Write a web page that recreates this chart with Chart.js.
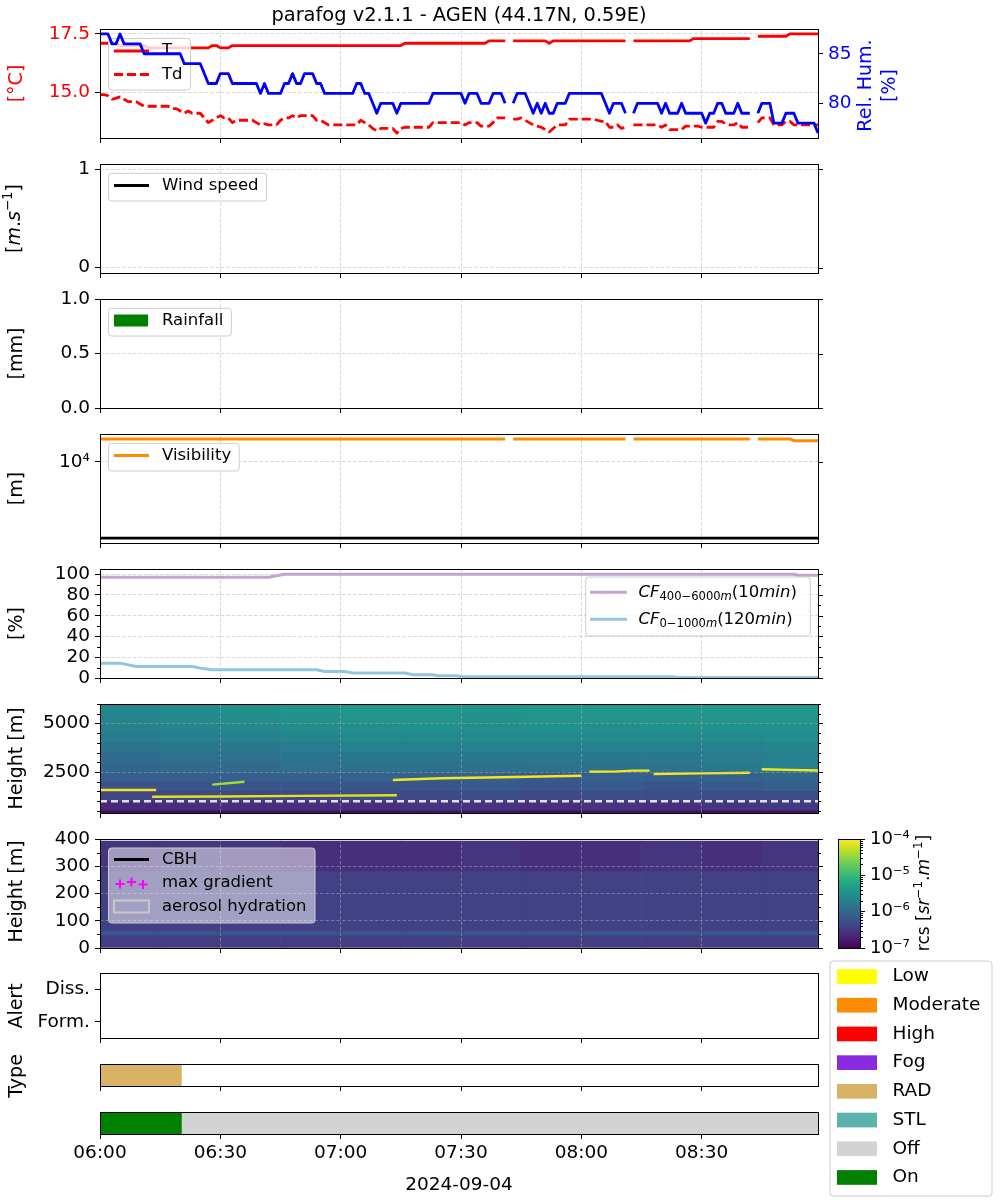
<!DOCTYPE html>
<html>
<head>
<meta charset="utf-8">
<title>parafog v2.1.1 - AGEN</title>
<script src="https://cdn.jsdelivr.net/npm/chart.js@4.4.1/dist/chart.umd.min.js"></script>
<style>
  body { margin: 0; background: #fff; }
  #fig { position: relative; width: 1000px; height: 1200px; overflow: hidden; }
  #fig canvas { position: absolute; left: 0; }
</style>
</head>
<body>
<div id="fig"></div>
<script>
// ---------- data: 1-minute steps from 06:00 ----------
const chartTitle = 'parafog v2.1.1 - AGEN (44.17N, 0.59E)';
const dateLabel = '2024-09-04';
const minutes = Array.from({length: 180}, (_, i) => i);

const temperature = [
  17.1,17.1,17.1,17.1,17.1,17.0,17.0,17.0,17.0,17.0,
  17.0,17.0,16.9,16.9,16.9,16.9,16.9,16.9,16.9,16.9,
  16.9,16.9,16.9,16.9,16.9,16.9,16.9,16.9,17.0,17.0,
  16.9,16.9,16.9,17.0,17.0,17.0,17.0,17.0,17.0,17.0,
  17.0,17.0,17.0,17.0,17.0,17.0,17.0,17.0,17.0,17.0,
  17.0,17.0,17.0,17.0,17.0,17.0,17.0,17.0,17.0,17.0,
  17.0,17.0,17.0,17.0,17.0,17.0,17.0,17.0,17.0,17.0,
  17.0,17.0,17.0,17.0,17.0,17.0,17.1,17.1,17.1,17.1,
  17.1,17.1,17.1,17.1,17.1,17.1,17.1,17.1,17.1,17.1,
  17.1,17.1,17.1,17.1,17.1,17.1,17.1,17.2,17.2,17.2,
  17.2,17.2,null,17.2,17.2,17.2,17.2,17.2,17.2,17.2,
  17.2,17.2,17.1,17.2,17.2,17.2,17.2,17.2,17.2,17.2,
  17.2,17.2,17.2,17.2,17.2,17.2,17.2,17.2,17.2,17.2,
  17.2,17.2,null,17.2,17.2,17.2,17.2,17.2,17.2,17.2,
  17.2,17.2,17.2,17.2,17.2,17.2,17.2,17.2,17.3,17.3,
  17.3,17.3,17.3,17.3,17.3,17.3,17.3,17.3,17.3,17.3,
  17.3,17.3,17.3,null,17.4,17.4,17.4,17.4,17.4,17.4,
  17.4,17.4,17.5,17.5,17.5,17.5,17.5,17.5,17.5,17.5
];
const dewPoint = [
  14.9,14.9,14.85,14.7,14.75,14.8,14.7,14.6,14.6,14.6,
  14.5,14.4,14.4,14.4,14.4,14.4,14.4,14.4,14.3,14.3,
  14.2,14.1,14.2,14.1,14.1,14.1,13.9,13.7,13.8,13.9,
  14.0,13.9,13.9,13.7,13.8,13.8,13.8,13.8,13.8,13.7,
  13.6,13.65,13.6,13.6,13.6,13.8,13.9,13.9,14.0,13.9,
  14.0,14.0,14.0,14.0,13.8,13.8,13.7,13.6,13.6,13.6,
  13.6,13.6,13.6,13.6,13.6,13.8,13.7,13.6,13.45,13.35,
  13.45,13.45,13.45,13.45,13.25,13.45,13.5,13.5,13.5,13.5,
  13.5,13.5,13.5,13.7,13.7,13.7,13.7,13.7,13.7,13.7,
  13.7,13.6,13.7,13.7,13.7,13.55,13.55,13.55,13.7,13.9,
  13.9,13.9,null,13.85,13.85,13.9,13.8,13.7,13.6,13.55,
  13.5,13.4,13.3,13.45,13.6,13.6,13.6,13.85,13.85,13.85,
  13.85,13.85,13.85,13.85,13.8,13.75,13.75,13.5,13.5,13.6,
  13.45,13.5,null,13.6,13.6,13.6,13.6,13.6,13.6,13.6,
  13.5,13.6,13.4,13.4,13.4,13.4,13.55,13.55,13.55,13.55,
  13.5,13.5,13.5,13.5,13.75,13.75,13.65,13.6,13.6,13.7,
  13.5,13.5,13.5,null,13.7,13.9,13.9,13.9,13.6,13.6,
  13.6,13.75,13.75,13.6,13.6,13.6,13.6,13.6,13.6,13.6
];
const relHum = [
  87,87,87,86,86,87,86,86,86,86,
  86,85,85,85,85,85,85,85,85,85,
  85,84,84,84,84,84,83,82,82,82,
  83,83,83,82,82,82,82,82,82,82,
  81,82,81,81,81,81,82,82,83,82,
  82,83,83,83,82,82,81,81,81,81,
  81,81,81,81,82,82,81,81,80,79,
  80,80,80,80,79,80,80,80,80,80,
  80,80,80,81,81,81,81,81,81,81,
  81,80,81,81,81,80,80,80,81,81,
  81,80,null,80,81,81,81,80,79,80,
  79,80,79,79,80,80,80,81,81,81,
  81,81,81,81,81,81,80,79,80,80,
  80,79,null,79,80,80,80,80,80,80,
  79,80,79,79,79,80,79,79,79,79,
  79,78,79,79,80,80,79,79,79,80,
  79,79,79,null,79,80,80,80,78,78,
  78,79,79,79,78,78,78,78,78,77
];
const windSpeed = [];
const rainfall = [];
const visibility = [
  20000,20000,20000,20000,20000,20000,20000,20000,20000,20000,
  20000,20000,20000,20000,20000,20000,20000,20000,20000,20000,
  20000,20000,20000,20000,20000,20000,20000,20000,20000,20000,
  20000,20000,20000,20000,20000,20000,20000,20000,20000,20000,
  20000,20000,20000,20000,20000,20000,20000,20000,20000,20000,
  20000,20000,20000,20000,20000,20000,20000,20000,20000,20000,
  20000,20000,20000,20000,20000,20000,20000,20000,20000,20000,
  20000,20000,20000,20000,20000,20000,20000,20000,20000,20000,
  20000,20000,20000,20000,20000,20000,20000,20000,20000,20000,
  20000,20000,20000,20000,20000,20000,20000,20000,20000,20000,
  20000,20000,null,20000,20000,20000,20000,20000,20000,20000,
  20000,20000,20000,20000,20000,20000,20000,20000,20000,20000,
  20000,20000,20000,20000,20000,20000,20000,20000,20000,20000,
  20000,20000,null,20000,20000,20000,20000,20000,20000,20000,
  20000,20000,20000,20000,20000,20000,20000,20000,20000,20000,
  20000,20000,20000,20000,20000,20000,20000,20000,20000,20000,
  20000,20000,20000,null,20000,20000,20000,20000,20000,20000,
  20000,20000,20000,19000,19000,19000,19000,19000,19000,19000
];
const visFogLimit = 1000;

// cloud fractions, read at their change points
const cfHighTimes = [0, 42, 46, 173, 174, 179];
const cfHigh = [97, 97, 100, 100, 99, 99];
const cfLowTimes = [0, 5, 9, 23, 25, 28, 54, 56, 61, 63, 76, 78, 83, 84, 89, 90, 143, 144, 179];
const cfLow = [14.3, 14.3, 11.0, 11.0, 9.5, 7.9, 7.9, 6.3, 6.3, 4.8, 4.8, 3.2, 3.2, 2.2, 2.2, 1.2, 1.2, 0.6, 0.6];

// ceilometer range-corrected signal, log10(rcs), 15-min columns
const heatTimes = [0, 15, 30, 45, 60, 75, 90, 105, 120, 135, 150, 165, 180];
const highHeights = [390, 500, 1000, 1500, 2000, 2500, 3000, 3500, 4000, 4500, 5000, 5500, 6000];
const rcsHigh = [
  [-6.9,-6.9,-6.85,-6.85,-6.9,-6.85,-6.85,-6.9,-6.85,-6.85,-6.9,-6.85],
  [-6.65,-6.6,-6.6,-6.6,-6.6,-6.55,-6.55,-6.6,-6.55,-6.6,-6.55,-6.5],
  [-6.4,-6.35,-6.35,-6.35,-6.3,-6.35,-6.3,-6.35,-6.3,-6.3,-6.3,-6.3],
  [-6.25,-6.2,-6.2,-6.2,-6.2,-6.2,-6.15,-6.2,-6.15,-6.2,-6.15,-6.1],
  [-6.1,-6.1,-6.1,-6.1,-6.05,-6.1,-6.1,-6.15,-6.1,-6.1,-6.05,-6.0],
  [-6.0,-5.95,-5.95,-5.9,-5.9,-5.9,-5.9,-5.85,-5.9,-5.85,-5.8,-5.7],
  [-5.95,-5.9,-5.9,-5.85,-5.8,-5.8,-5.8,-5.8,-5.8,-5.8,-5.75,-5.7],
  [-5.85,-5.8,-5.8,-5.75,-5.7,-5.7,-5.7,-5.7,-5.7,-5.7,-5.7,-5.65],
  [-5.75,-5.7,-5.7,-5.65,-5.6,-5.6,-5.6,-5.6,-5.6,-5.6,-5.6,-5.55],
  [-5.7,-5.65,-5.6,-5.55,-5.55,-5.5,-5.55,-5.5,-5.55,-5.5,-5.5,-5.5],
  [-5.65,-5.6,-5.55,-5.5,-5.45,-5.45,-5.5,-5.45,-5.45,-5.45,-5.45,-5.45],
  [-5.6,-5.55,-5.5,-5.45,-5.4,-5.4,-5.45,-5.4,-5.4,-5.4,-5.4,-5.4]
];
const lowHeights = [0, 10, 45, 62, 280, 392];
const rcsLow = [
  [-6.5,-6.5,-6.45,-6.5,-6.5,-6.45,-6.5,-6.5,-6.45,-6.5,-6.45,-6.45],
  [-6.45,-6.45,-6.45,-6.45,-6.45,-6.45,-6.45,-6.45,-6.45,-6.45,-6.45,-6.45],
  [-6.22,-6.22,-6.22,-6.22,-6.22,-6.22,-6.22,-6.22,-6.22,-6.22,-6.22,-6.22],
  [-6.43,-6.43,-6.43,-6.43,-6.43,-6.43,-6.43,-6.43,-6.43,-6.43,-6.43,-6.43],
  [-6.55,-6.5,-6.55,-6.6,-6.6,-6.6,-6.55,-6.6,-6.6,-6.55,-6.6,-6.55]
];
const fogTopHeight = 1000;
// bright backscatter layers (m)
const layerATimes = [0, 14];
const layerA = [1570, 1570];
const layerBTimes = [13, 30, 50, 74];
const layerB = [1230, 1240, 1270, 1300];
const layerCTimes = [28, 36];
const layerC = [1850, 2000];
const layerDTimes = [73, 85, 100, 120, 121, 122, 128, 133, 137, 137.5, 138, 150, 162, 163.5, 165, 172, 179];
const layerD = [2090, 2175, 2230, 2310, null, 2510, 2520, 2570, 2570, null, 2400, 2430, 2465, null, 2640, 2610, 2580];

// fog type and status
const typeStart = [0];
const typeEnd = [20.3];
const typeName = ['RAD'];
const stateStart = [0, 20.3];
const stateEnd = [20.3, 179];
const stateName = ['On', 'Off'];

// ticks
const timeTicks = [0, 30, 60, 90, 120, 150];
const tempTicks = [15, 17.5];
const tempTickLabels = ['15.0', '17.5'];
const rhTicks = [80, 85];
const rhTickLabels = ['80', '85'];
const windTicks = [0, 1];
const windTickLabels = ['0', '1'];
const rainTicks = [0, 0.5, 1];
const rainTickLabels = ['0.0', '0.5', '1.0'];
const visTicks = [10000];
const visTickLabels = ['10\u2074'];
const cfTicks = [0, 20, 40, 60, 80, 100];
const cfTickLabels = ['0', '20', '40', '60', '80', '100'];
const cfMinor = [10, 30, 50, 70, 90];
const highTicks = [2500, 5000];
const highTickLabels = ['2500', '5000'];
const highMinor = [500, 1000, 1500, 2000, 3000, 3500, 4000, 4500, 5500, 6000];
const lowTicks = [0, 100, 200, 300, 400];
const lowTickLabels = ['0', '100', '200', '300', '400'];
const lowMinor = [50, 150, 250, 350];
const alertTicks = [0, 1];
const alertLabels = ['Form.', 'Diss.'];
const cbTicks = [1e-7, 1e-6, 1e-5, 1e-4];
const cbTickLabels = ['10\u207b\u2077', '10\u207b\u2076', '10\u207b\u2075', '10\u207b\u2074'];

const legendNames = ['Low', 'Moderate', 'High', 'Fog', 'RAD', 'STL', 'Off', 'On'];
const legendColors = ['#ffff00', '#ff8c00', '#ff0000', '#8a2be2', '#d8b365', '#5ab4ac', '#d3d3d3', '#008000'];

// ---------- styling ----------
const FONT = 'DejaVu Sans';
const GRID = 'rgba(176,176,176,0.5)';
const GRID_DASH = [3.5, 2];
const X_MAX = 179;
const VIRIDIS = [[68,1,84],[72,36,117],[65,68,135],[53,95,141],[42,120,142],[33,145,140],
                 [34,168,132],[68,191,112],[122,209,81],[189,223,38],[253,231,37]];
const LOG_MIN = -7, LOG_MAX = -4;

Chart.defaults.font.family = FONT;
const fig = document.getElementById('fig');

function viridis(t) {
  t = Math.max(0, Math.min(1, t));
  const p = t * 10, i = Math.min(9, Math.floor(p)), f = p - i;
  const a = VIRIDIS[i], b = VIRIDIS[i + 1];
  const c = k => Math.round(a[k] + (b[k] - a[k]) * f);
  return `rgb(${c(0)},${c(1)},${c(2)})`;
}
const rcsColor = v => viridis((v - LOG_MIN) / (LOG_MAX - LOG_MIN));
const colorOf = name => legendColors[legendNames.indexOf(name)];
const pts = (ts, vs) => ts.map((t, i) => ({x: t, y: vs[i]}));

function fmtTime(m) {
  const t = 360 + m;
  return String(Math.floor(t / 60)).padStart(2, '0') + ':' + String(t % 60).padStart(2, '0');
}

// ---------- drawing helpers ----------
function rich(ctx, parts, x, y, o = {}) {
  const size = o.size || 19;
  const fontOf = p => (p.it ? 'italic ' : '') + ((p.sup || p.sub) ? size * 0.7 : size) + 'px "' + FONT + '"';
  const widths = parts.map(p => { ctx.font = fontOf(p); return ctx.measureText(p.t).width; });
  const total = widths.reduce((s, w) => s + w, 0);
  ctx.save();
  ctx.translate(x, y);
  if (o.rot) ctx.rotate(o.rot);
  ctx.fillStyle = o.color || '#000';
  ctx.textBaseline = 'middle';
  ctx.textAlign = 'left';
  let cx = o.align === 'left' ? 0 : -total / 2;
  parts.forEach((p, i) => {
    ctx.font = fontOf(p);
    ctx.fillText(p.t, cx, p.sup ? -size * 0.36 : p.sub ? size * 0.28 : 0);
    cx += widths[i];
  });
  ctx.restore();
  return total;
}

function yLabel(ctx, text, x, y, color) {
  rich(ctx, typeof text === 'string' ? [{t: text}] : text, x, y, {size: 19, rot: -Math.PI / 2, color});
}

function drawLegend(ctx, lg) {
  const size = lg.size || 16.5;
  ctx.save();
  ctx.font = size + 'px "' + FONT + '"';
  let w = lg.w;
  if (!w) {
    const tw = Math.max(...lg.items.map(it => ctx.measureText(it.label).width));
    w = lg.tx - lg.x + tw + 8;
  }
  ctx.beginPath();
  ctx.roundRect(lg.x, lg.y, w, lg.h, 3);
  ctx.fillStyle = `rgba(255,255,255,${lg.alpha ?? 0.8})`;
  ctx.fill();
  ctx.strokeStyle = '#cccccc';
  ctx.lineWidth = 1;
  ctx.stroke();
  const [h0, h1] = lg.hx;
  lg.items.forEach(it => {
    if (it.line) {
      ctx.beginPath();
      ctx.setLineDash(it.line.dash || []);
      ctx.strokeStyle = it.line.color;
      ctx.lineWidth = it.line.width;
      ctx.moveTo(h0, it.y);
      ctx.lineTo(h1, it.y);
      ctx.stroke();
      ctx.setLineDash([]);
    }
    if (it.patch) {
      const ph = it.patch.h || 13;
      if (it.patch.fill) { ctx.fillStyle = it.patch.fill; ctx.fillRect(h0, it.y - ph / 2, h1 - h0, ph); }
      if (it.patch.stroke) {
        ctx.strokeStyle = it.patch.stroke; ctx.lineWidth = 2;
        ctx.strokeRect(h0, it.y - ph / 2, h1 - h0, ph);
      }
    }
    if (it.plus) {
      ctx.strokeStyle = it.plus; ctx.lineWidth = 2;
      [[h0 + 6, it.y + 1], [h0 + 17.5, it.y - 1], [h0 + 29, it.y + 1.5]].forEach(([px, py]) => {
        ctx.beginPath();
        ctx.moveTo(px - 4.5, py); ctx.lineTo(px + 4.5, py);
        ctx.moveTo(px, py - 4.5); ctx.lineTo(px, py + 4.5);
        ctx.stroke();
      });
    }
    if (it.parts) {
      rich(ctx, it.parts, lg.tx, it.y, {size, align: 'left'});
    } else {
      ctx.font = size + 'px "' + FONT + '"';
      ctx.fillStyle = '#000';
      ctx.textBaseline = 'middle';
      ctx.textAlign = 'left';
      ctx.fillText(it.label, lg.tx, it.y);
    }
  });
  ctx.restore();
}

function drawFrame(chart) {
  const a = chart.chartArea, ctx = chart.ctx;
  ctx.save();
  ctx.strokeStyle = '#000';
  ctx.lineWidth = 1;
  ctx.strokeRect(a.left + 0.5, a.top + 0.5, a.right - a.left, a.bottom - a.top);
  ctx.restore();
}

// extra tick marks (mirrored majors on the right, minors on both sides)
function sideTicks(chart, id, vals, len, left, right) {
  const s = chart.scales[id], a = chart.chartArea, ctx = chart.ctx;
  ctx.save();
  ctx.strokeStyle = '#000';
  ctx.lineWidth = 1;
  ctx.beginPath();
  vals.forEach(v => {
    const y = Math.round(s.getPixelForValue(v)) + 0.5;
    if (left) { ctx.moveTo(a.left - len, y); ctx.lineTo(a.left, y); }
    if (right) { ctx.moveTo(a.right, y); ctx.lineTo(a.right + len, y); }
  });
  ctx.stroke();
  ctx.restore();
}

// ---------- scales ----------
function xAxis(o = {}) {
  return {
    type: 'linear', min: 0, max: X_MAX, bounds: 'data', offset: false,
    afterBuildTicks: s => { s.ticks = timeTicks.map(v => ({value: v})); },
    afterFit: s => { s.height = o.height || 20; },
    ticks: {display: !!o.labels, callback: v => fmtTime(v), font: {size: 18.5}, color: '#000',
            padding: 3, maxRotation: 0, autoSkip: false},
    grid: {offset: false, drawOnChartArea: o.grid !== false, color: GRID, lineWidth: 1,
           tickColor: '#000', tickWidth: 1, tickLength: 5, z: o.z || -1},
    border: {display: false, dash: GRID_DASH},
  };
}

function yAxis(o) {
  return {
    type: o.type || 'linear', position: o.position || 'left', min: o.min, max: o.max, bounds: 'data',
    afterBuildTicks: s => { s.ticks = o.ticks.map(v => ({value: v})); },
    afterFit: s => { s.width = o.width || 100; },
    ticks: {callback: (v, i) => o.labels[i], font: {size: o.size || 18.5}, color: o.color || '#000',
            padding: 5, autoSkip: false},
    grid: {drawOnChartArea: o.grid !== false, color: GRID, lineWidth: 1,
           tickColor: '#000', tickWidth: 1, tickLength: 5, z: o.z || -1},
    border: {display: false, dash: GRID_DASH},
  };
}

const rowAxis = {
  type: 'category', offset: true,
  afterFit: s => { s.width = 100; },
  ticks: {display: false}, grid: {display: false}, border: {display: false},
};

function heatDatasets(times, heights, rows) {
  return rows.map((row, r) => ({
    type: 'bar',
    data: row.map((v, c) => ({x: (times[c] + times[c + 1]) / 2, y: [heights[r], heights[r + 1]]})),
    backgroundColor: row.map(rcsColor),
    borderWidth: 0, grouped: false, barPercentage: 1, categoryPercentage: 1, order: 5,
  }));
}

function layerLine(ts, hs, color) {
  return {type: 'line', data: pts(ts, hs), borderColor: color, borderWidth: 2.4, pointRadius: 0, order: 1};
}

function segmentBars(starts, ends, names) {
  return starts.map((s, i) => ({
    data: [[s, ends[i]]], backgroundColor: colorOf(names[i]),
    borderWidth: 0, grouped: false, barPercentage: 1, categoryPercentage: 1,
  }));
}

// ---------- panel factory ----------
function makePanel(p) {
  const padTop = p.padTop || 20, xh = p.xh || 20;
  const cTop = p.top - padTop;
  const canvas = document.createElement('canvas');
  canvas.width = 1000;
  canvas.height = padTop + p.height + xh;
  canvas.style.top = cTop + 'px';
  fig.appendChild(canvas);

  const inFig = (chart, fn) => {
    const ctx = chart.ctx;
    ctx.save();
    ctx.translate(0, -cTop);
    fn(ctx, chart);
    ctx.restore();
  };
  const deco = {
    id: 'deco',
    beforeDatasetDraw(chart, args) {
      if (p.under && args.index === p.under.index) inFig(chart, p.under.draw);
    },
    afterDraw(chart) {
      if (p.marks) p.marks(chart);
      drawFrame(chart);
      if (p.draw) inFig(chart, p.draw);
    },
  };
  return new Chart(canvas, {
    type: p.type,
    data: p.data,
    options: Object.assign({
      responsive: false, animation: false, events: [],
      layout: {padding: {top: padTop, left: p.padLeft || 0, right: p.padRight ?? 182, bottom: p.padBottom || 0}},
      elements: {point: {radius: 0}, line: {tension: 0, borderJoinStyle: 'round'}},
      plugins: {legend: {display: false}, tooltip: {enabled: false}, title: {display: false}},
      scales: p.scales,
    }, p.options || {}),
    plugins: [deco],
  });
}

const HX = [114, 149], TX = 162;

// 1. temperature / dew point / humidity
makePanel({
  top: 29, height: 109, padTop: 29, padRight: 0, type: 'line',
  data: {labels: minutes, datasets: [
    {data: temperature, yAxisID: 'y', borderColor: '#ff0000', borderWidth: 2.8, order: 2},
    {data: dewPoint, yAxisID: 'y', borderColor: '#ff0000', borderWidth: 2.8, borderDash: [9, 4], order: 3},
    {data: relHum, yAxisID: 'y2', borderColor: '#0000ff', borderWidth: 2.8, order: 1},
  ]},
  scales: {
    x: xAxis(),
    y: yAxis({min: 13.04, max: 17.71, ticks: tempTicks, labels: tempTickLabels, color: '#ff0000'}),
    y2: yAxis({position: 'right', min: 76.5, max: 87.5, ticks: rhTicks, labels: rhTickLabels,
               color: '#0000ff', grid: false, width: 182}),
  },
  under: {index: 2, draw: ctx => drawLegend(ctx, {
    x: 108.5, y: 38.5, h: 51.5, hx: HX, tx: TX,
    items: [{y: 51, label: 'T', line: {color: '#ff0000', width: 2.8}},
            {y: 74.5, label: 'Td', line: {color: '#ff0000', width: 2.8, dash: [9, 4]}}],
  })},
  draw: ctx => {
    rich(ctx, [{t: chartTitle}], 459, 16, {size: 19.4});
    yLabel(ctx, '[°C]', 17, 83.5, '#ff0000');
    yLabel(ctx, 'Rel. Hum.', 866, 85.5, '#0000ff');
    yLabel(ctx, '[%]', 890, 85.5, '#0000ff');
  },
});

// 2. wind speed
makePanel({
  top: 164, height: 109, type: 'line',
  data: {labels: minutes, datasets: [{data: windSpeed, borderColor: '#000', borderWidth: 2.8}]},
  scales: {x: xAxis(), y: yAxis({min: -0.055, max: 1.055, ticks: windTicks, labels: windTickLabels})},
  marks: c => sideTicks(c, 'y', windTicks, 5, false, true),
  draw: ctx => {
    yLabel(ctx, [{t: '['}, {t: 'm', it: true}, {t: '.'}, {t: 's', it: true}, {t: '\u22121', sup: true}, {t: ']'}], 15, 218.5);
    drawLegend(ctx, {x: 108.5, y: 173.3, h: 27.7, hx: HX, tx: TX,
      items: [{y: 185.5, label: 'Wind speed', line: {color: '#000', width: 2.8}}]});
  },
});

// 3. rainfall
makePanel({
  top: 299, height: 109, type: 'bar',
  data: {labels: minutes, datasets: [{data: rainfall, backgroundColor: '#008000'}]},
  scales: {x: xAxis(), y: yAxis({min: 0, max: 1, ticks: rainTicks, labels: rainTickLabels})},
  marks: c => sideTicks(c, 'y', rainTicks, 5, false, true),
  draw: ctx => {
    yLabel(ctx, '[mm]', 17, 353.5);
    drawLegend(ctx, {x: 108.5, y: 308.3, h: 27.7, hx: [114, 148], tx: TX,
      items: [{y: 320.5, label: 'Rainfall', patch: {fill: '#008000', h: 12}}]});
  },
});

// 4. visibility
makePanel({
  top: 434, height: 109, type: 'line',
  data: {labels: minutes, datasets: [
    {data: visibility, borderColor: '#ff8c00', borderWidth: 3},
    {data: pts([0, X_MAX], [visFogLimit, visFogLimit]), borderColor: '#000', borderWidth: 2.8},
  ]},
  scales: {x: xAxis(), y: yAxis({type: 'logarithmic', min: 861, max: 23220, ticks: visTicks, labels: visTickLabels})},
  marks: c => sideTicks(c, 'y', visTicks, 5, false, true),
  draw: ctx => {
    yLabel(ctx, '[m]', 17, 488.5);
    drawLegend(ctx, {x: 108.5, y: 443.3, h: 27.7, hx: HX, tx: TX,
      items: [{y: 455.5, label: 'Visibility', line: {color: '#ff8c00', width: 3}}]});
  },
});

// 5. cloud fraction
makePanel({
  top: 569, height: 109, type: 'line',
  data: {datasets: [
    {data: pts(cfHighTimes, cfHigh), borderColor: '#c2a5cf', borderWidth: 3},
    {data: pts(cfLowTimes, cfLow), borderColor: '#92c5de', borderWidth: 3},
  ]},
  scales: {x: xAxis(), y: yAxis({min: 0, max: 105, ticks: cfTicks, labels: cfTickLabels})},
  marks: c => { sideTicks(c, 'y', cfTicks, 5, false, true); sideTicks(c, 'y', cfMinor, 3, true, true); },
  draw: ctx => {
    yLabel(ctx, '[%]', 17, 623.5);
    drawLegend(ctx, {x: 585.7, y: 577, w: 224.5, h: 59, hx: [590, 627], tx: 638.5,
      items: [
        {y: 592.3, line: {color: '#c2a5cf', width: 3},
         parts: [{t: 'CF', it: true}, {t: '400\u22126000', sub: true}, {t: 'm', sub: true, it: true},
                 {t: '(10'}, {t: 'min', it: true}, {t: ')'}]},
        {y: 619.3, line: {color: '#92c5de', width: 3},
         parts: [{t: 'CF', it: true}, {t: '0\u22121000', sub: true}, {t: 'm', sub: true, it: true},
                 {t: '(120'}, {t: 'min', it: true}, {t: ')'}]},
      ]});
  },
});

// 6. backscatter up to 6 km
makePanel({
  top: 704, height: 109, type: 'bar',
  data: {datasets: [
    ...heatDatasets(heatTimes, highHeights, rcsHigh),
    layerLine(layerATimes, layerA, '#f5e61e'),
    layerLine(layerBTimes, layerB, '#e2e418'),
    layerLine(layerCTimes, layerC, '#a8db34'),
    layerLine(layerDTimes, layerD, '#f5e61e'),
    {type: 'line', data: pts([0, X_MAX], [fogTopHeight, fogTopHeight]), borderColor: 'rgba(235,235,235,0.95)',
     borderWidth: 2.5, borderDash: [7, 4], pointRadius: 0, order: 0},
  ]},
  scales: {x: xAxis({z: 1}), y: yAxis({min: 390, max: 6000, ticks: highTicks, labels: highTickLabels, z: 1})},
  marks: c => { sideTicks(c, 'y', highTicks, 5, false, true); sideTicks(c, 'y', highMinor, 3, true, true); },
  draw: ctx => yLabel(ctx, 'Height [m]', 17, 758.5),
});

// 7. backscatter below 400 m
makePanel({
  top: 839, height: 109, type: 'bar',
  data: {datasets: heatDatasets(heatTimes, lowHeights, rcsLow)},
  scales: {x: xAxis({z: 1}), y: yAxis({min: 0, max: 400, ticks: lowTicks, labels: lowTickLabels, z: 1})},
  marks: c => { sideTicks(c, 'y', lowTicks, 5, false, true); sideTicks(c, 'y', lowMinor, 3, true, true); },
  draw: ctx => {
    yLabel(ctx, 'Height [m]', 17, 891.5);
    drawLegend(ctx, {x: 108.5, y: 848, w: 206.5, h: 75, alpha: 0.5, hx: HX, tx: TX,
      items: [
        {y: 859.5, label: 'CBH', line: {color: '#000', width: 2.8}},
        {y: 883, label: 'max gradient', plus: '#ff00ff'},
        {y: 906.5, label: 'aerosol hydration', patch: {stroke: '#c8c8c8', h: 12}},
      ]});
  },
});

// colour bar
makePanel({
  top: 839, height: 109, padLeft: 838, padRight: 0, padBottom: 20, type: 'bar',
  data: {labels: ['rcs'], datasets: [{
    data: [[cbTicks[0], cbTicks[cbTicks.length - 1]]],
    backgroundColor: c => {
      const a = c.chart.chartArea;
      if (!a) return viridis(0.5);
      const g = c.chart.ctx.createLinearGradient(0, a.bottom, 0, a.top);
      VIRIDIS.forEach((col, i) => g.addColorStop(i / 10, `rgb(${col[0]},${col[1]},${col[2]})`));
      return g;
    },
    borderWidth: 0, grouped: false, barPercentage: 1, categoryPercentage: 1,
  }]},
  scales: {
    x: {type: 'category', display: false, offset: true},
    y: yAxis({type: 'logarithmic', position: 'right', min: 1e-7, max: 1e-4, ticks: cbTicks,
              labels: cbTickLabels, grid: false, width: 140, size: 18}),
  },
  marks: c => {
    const minor = [];
    [1e-7, 1e-6, 1e-5].forEach(d => { for (let k = 2; k <= 9; k++) minor.push(d * k); });
    sideTicks(c, 'y', minor, 3, false, true);
  },
  draw: ctx => rich(ctx, [{t: 'rcs ['}, {t: 'sr', it: true}, {t: '\u22121', sup: true}, {t: '.'},
                          {t: 'm', it: true}, {t: '\u22121', sup: true}, {t: ']'}],
                    925, 893, {size: 17, rot: -Math.PI / 2}),
});

// 8. alerts
makePanel({
  top: 973, height: 65, type: 'line',
  data: {datasets: []},
  scales: {x: xAxis({grid: false}), y: yAxis({min: -0.5, max: 1.5, ticks: alertTicks, labels: alertLabels, grid: false})},
  draw: ctx => yLabel(ctx, 'Alert', 17, 1006),
});

// 9. fog type
makePanel({
  top: 1064, height: 22, type: 'bar',
  options: {indexAxis: 'y'},
  data: {labels: ['type'], datasets: segmentBars(typeStart, typeEnd, typeName)},
  scales: {x: xAxis({grid: false}), y: rowAxis},
  draw: ctx => yLabel(ctx, 'Type', 17, 1076),
});

// 10. on / off, time axis and category legend
makePanel({
  top: 1112, height: 22, padTop: 160, xh: 66, type: 'bar',
  options: {indexAxis: 'y'},
  data: {labels: ['state'], datasets: segmentBars(stateStart, stateEnd, stateName)},
  scales: {x: xAxis({grid: false, labels: true, height: 66}), y: rowAxis},
  draw: ctx => {
    rich(ctx, [{t: dateLabel}], 459, 1185, {size: 18.5});
    ctx.save();
    ctx.beginPath();
    ctx.roundRect(830, 961, 162, 235, 3);
    ctx.fillStyle = 'rgba(255,255,255,0.8)';
    ctx.fill();
    ctx.strokeStyle = '#cccccc';
    ctx.lineWidth = 1;
    ctx.stroke();
    ctx.font = '18.5px "' + FONT + '"';
    ctx.textBaseline = 'middle';
    legendNames.forEach((name, i) => {
      const y = 976.5 + i * 28.7;
      ctx.fillStyle = legendColors[i];
      ctx.fillRect(837, y - 7.3, 40, 14.7);
      ctx.fillStyle = '#000';
      ctx.fillText(name, 892.5, y);
    });
    ctx.restore();
  },
});
</script>
</body>
</html>
